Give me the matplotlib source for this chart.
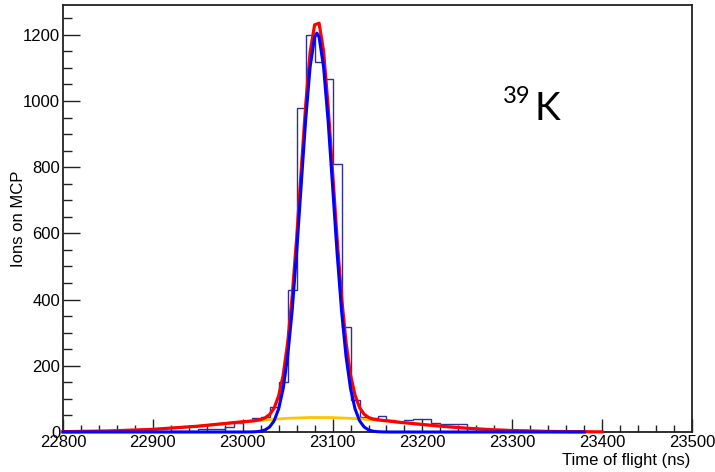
import numpy as np
import matplotlib
matplotlib.use("Agg")
import matplotlib.pyplot as plt
from matplotlib.ticker import MultipleLocator

plt.rcParams['font.family'] = ['Liberation Sans', 'DejaVu Sans']

# ---------------- data ----------------
# histogram: 10 ns bins starting at 22800
bin_start = 22800
bin_width = 10
hist_counts = [
    0, 0, 0, 4, 0, 0, 0, 0, 0, 3,          # 22800-22900
    2, 2, 2, 2, 2, 8, 9, 9, 16, 26,        # 22900-23000
    34, 41, 46, 76, 150, 430, 978, 1198, 1119, 1066,   # 23000-23100
    809, 318, 97, 45, 41, 47, 36, 30, 36, 40,          # 23100-23200
    38, 26, 24, 24, 24, 0, 0, 0, 0, 0,                 # 23200-23300
    0, 0, 0, 0, 0, 0, 0, 0, 0, 0,                      # 23300-23400
    0, 0, 0, 0, 0, 0, 0, 0, 0,                         # 23400-23490
]

# main peak fit (blue)
blue_t = [22800, 23000, 23010, 23015, 23020, 23025, 23030, 23035, 23040, 23045,
          23050, 23055, 23060, 23065, 23070, 23075, 23080, 23082.5, 23085, 23090,
          23095, 23100, 23105, 23110, 23115, 23120, 23125, 23130, 23135, 23140,
          23145, 23150, 23155, 23165, 23380]
blue_v = [0, 0, 0.3, 0.9, 2.5, 6.5, 15.5, 34, 70, 131,
          228, 366, 542, 743, 941, 1103, 1193, 1205, 1193, 1103,
          941, 743, 542, 366, 228, 131, 70, 34, 15.5, 6.5,
          2.5, 0.9, 0.3, 0, 0]

# broad background component (yellow)
yel_t = [22800, 22850, 22900, 22950, 23000, 23025, 23050, 23075, 23100, 23125,
         23150, 23175, 23200, 23225, 23250, 23275, 23300, 23340, 23382]
yel_v = [1, 3, 8, 17.5, 30.5, 36.5, 41.4, 43.8, 43.5, 40.6,
         35.8, 29.3, 22.7, 16.5, 11.3, 7.2, 4.4, 1.7, 0.6]

# total fit (red)
red_t = [22800, 22850, 22900, 22950, 23000, 23010, 23015, 23020, 23025, 23030,
         23035, 23040, 23045, 23050, 23055, 23060, 23065, 23070, 23075, 23080,
         23085, 23090, 23095, 23100, 23105, 23110, 23115, 23120, 23125, 23130,
         23135, 23140, 23145, 23150, 23175, 23200, 23225, 23250, 23275, 23300,
         23340, 23400]
red_v = [1, 3, 8, 17.5, 31, 33, 35, 37.5, 43, 53,
         72.5, 109.5, 171.5, 269, 408, 585, 786, 985, 1147, 1230,
         1235, 1150, 985, 786, 585, 408, 270, 172, 111, 74,
         54, 44, 39, 37, 29.3, 22.7, 16.5, 11.3, 7.2, 4.4,
         1.7, 0.4]

x_limits = (22800, 23500)
y_limits = (0, 1290)
x_label = "Time of flight (ns)"
y_label = "Ions on MCP"

# ---------------- figure ----------------
W, H = 715, 472
fig = plt.figure(figsize=(W / 100, H / 100), dpi=100)
ax = fig.add_axes([63 / W, 1 - 432 / H, (692 - 63) / W, (432 - 5) / H])

edges = bin_start + bin_width * np.arange(len(hist_counts) + 1)
ax.stairs(hist_counts, edges, baseline=0, color='#2e2e9e', lw=1.0, zorder=2)

ax.plot(yel_t, yel_v, color='#ffc400', lw=2.0, zorder=3, clip_on=False)
ax.plot(red_t, red_v, color='#ff0000', lw=2.3, zorder=4, clip_on=False)
ax.plot(blue_t, blue_v, color='#0000ff', lw=2.2, zorder=5, clip_on=False)

ax.set_xlim(*x_limits)
ax.set_ylim(*y_limits)

ax.xaxis.set_major_locator(MultipleLocator(100))
ax.xaxis.set_minor_locator(MultipleLocator(20))
ax.yaxis.set_major_locator(MultipleLocator(200))
ax.yaxis.set_minor_locator(MultipleLocator(50))

ax.tick_params(axis='x', which='major', direction='in', length=9.3, width=1.0,
               labelsize=12, pad=2, color='#222222')
ax.tick_params(axis='x', which='minor', direction='in', length=4.7, width=1.0,
               color='#222222')
ax.tick_params(axis='y', which='major', direction='in', length=12.5, width=1.0,
               labelsize=12, pad=2, color='#222222')
ax.tick_params(axis='y', which='minor', direction='in', length=6.5, width=1.0,
               color='#222222')

for s in ax.spines.values():
    s.set_linewidth(1.3)
    s.set_color('#222222')

fig.text(19 / W, 1 - 218.5 / H, y_label, rotation=90, ha='center', va='center',
         fontsize=12)
fig.text(690 / W, 1 - 460.5 / H, x_label, ha='right', va='center', fontsize=12)

fig.text(503 / W, 1 - 103 / H, "39", ha='left', va='baseline', fontsize=17,
         family=['Lato', 'DejaVu Sans'])
fig.text(535 / W, 1 - 120 / H, "K", ha='left', va='baseline', fontsize=28,
         family=['Lato', 'DejaVu Sans'])

fig.savefig("out.png", dpi=100)
